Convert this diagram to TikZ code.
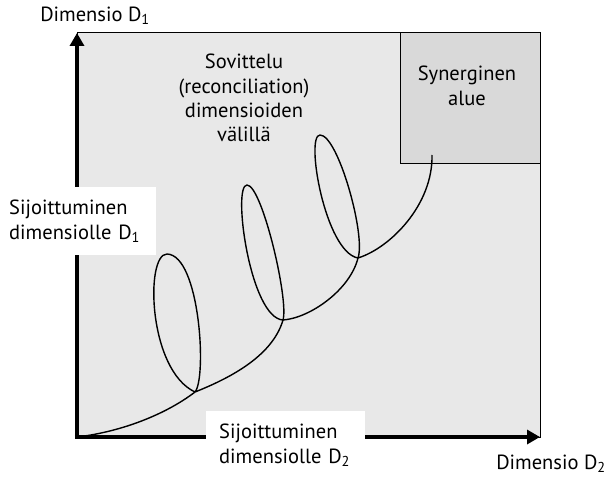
\documentclass[tikz,border=0pt]{standalone}
\usepackage{fontspec}
\setmainfont{PT Sans}
\usetikzlibrary{arrows.meta}
\definecolor{planegray}{gray}{0.91}
\definecolor{synergray}{gray}{0.85}

\begin{document}
\begin{tikzpicture}[x=1pt,y=-1pt,
  lbl/.style={font=\fontsize{20.5}{24.3}\selectfont,inner sep=0pt,align=center},
  whitelbl/.style={lbl,fill=white,align=left,anchor=north west},
  axis/.style={line width=4.5pt,-{Triangle[width=14pt,length=13pt]}},
  spiral/.style={line width=1.4pt,line join=round}]
  \useasboundingbox (0,0) rectangle (609,478);
  % plane and the synergy corner
  \draw[fill=planegray,line width=1pt] (77,33) rectangle (540,437);
  \draw[fill=synergray,line width=1pt] (400,33) rectangle (540,164);
  % axes
  \coordinate (O) at (77,437);
  \coordinate (ytip) at (77,33);
  \coordinate (xtip) at (540,437);
  \draw[axis] ([yshift=2.25pt]O) -- (ytip);
  \draw[axis] ([xshift=-2.25pt]O) -- (xtip);
  % crossings and loop tops
  \coordinate (c1) at (195,392);
  \coordinate (c2) at (283,320);
  \coordinate (c3) at (358,258);
  \coordinate (t1) at (167,254);
  \coordinate (t2) at (247,185);
  \coordinate (t3) at (320,135);
  \coordinate (end) at (432,155);
  \draw[spiral] (O) .. controls (120,432) and (165,415) .. (c1)
    .. controls (207,378) and (200,255) .. (t1)
    .. controls (145,254) and (148,370) .. (c1)
    .. controls (225,380) and (272,358) .. (c2)
    .. controls (289,300) and (262,185) .. (t2)
    .. controls (232,185) and (250,318) .. (c2)
    .. controls (310,318) and (350,290) .. (c3)
    .. controls (366,235) and (338,135) .. (t3)
    .. controls (305,135) and (325,252) .. (c3)
    .. controls (390,248) and (433,205) .. (end);
  % texts
  \node[lbl] (dim1) at (95,16) {Dimensio D\textsubscript{1}};
  \node[lbl] (dim2) at (551,464) {Dimensio D\textsubscript{2}};
  \node[lbl,anchor=north] (sovittelu) at (244,54) {Sovittelu\\(reconciliation)\\dimensioiden\\välillä};
  \node[lbl,anchor=north] (synergy) at (467,66) {Synerginen\\alue};
  \node[whitelbl,inner xsep=9pt,inner ysep=13pt,text width=138pt] (pos1) at (0,187)
    {Sijoittuminen\\dimensiolle D\textsubscript{1}};
  \node[whitelbl,inner xsep=13pt,inner ysep=13pt,text width=133pt] (pos2) at (206,411)
    {Sijoittuminen\\dimensiolle D\textsubscript{2}};
\end{tikzpicture}
\end{document}
